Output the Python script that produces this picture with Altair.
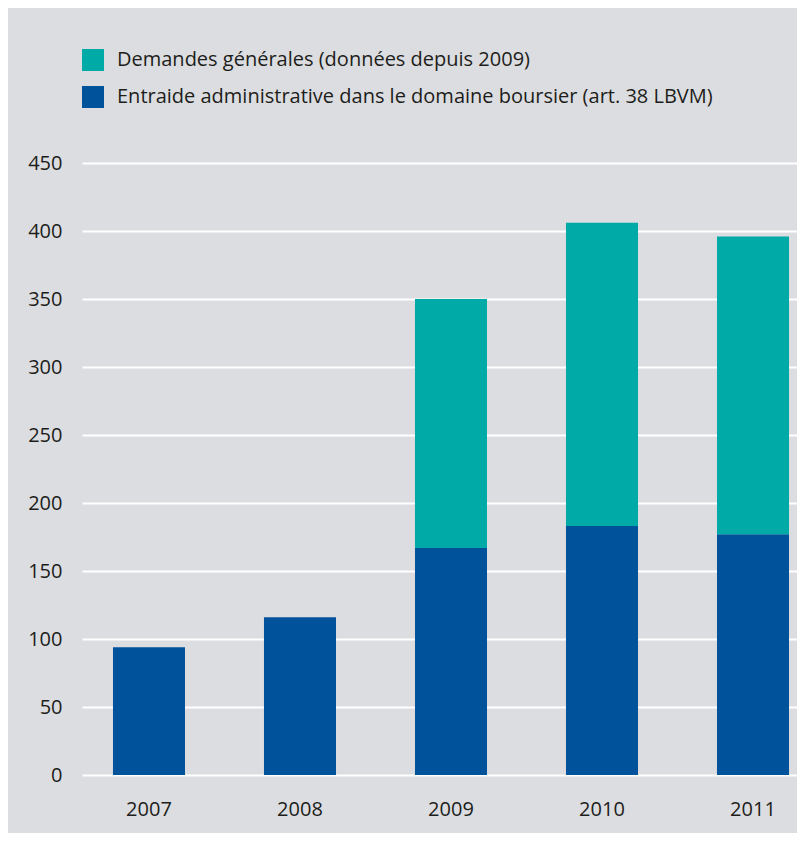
import altair as alt
import pandas as pd

years = ["2007", "2008", "2009", "2010", "2011"]
entraide = [94, 116, 167, 183, 177]
generales = [0, 0, 183, 223, 219]

s_gen = "Demandes générales (données depuis 2009)"
s_ent = "Entraide administrative dans le domaine boursier (art. 38 LBVM)"
series_names = [s_gen, s_ent]
series_colors = ["#00aaa7", "#00529b"]

rows = []
for y, e, g in zip(years, entraide, generales):
    rows.append({"year": y, "series": s_ent, "value": e, "ord": 0})
    if g > 0:
        rows.append({"year": y, "series": s_gen, "value": g, "ord": 1})
df = pd.DataFrame(rows)

FONT = "Open Sans"
TXT = "#1d1d1b"
FS = 20

chart = alt.Chart(df).mark_bar().encode(
    x=alt.X("year:N", title=None,
            scale=alt.Scale(paddingInner=0.523, paddingOuter=0.129, align=0.795),
            axis=alt.Axis(labelAngle=0, ticks=False, domain=False, grid=False,
                          labelPadding=24, labelFontSize=FS, labelFont=FONT,
                          labelColor=TXT)),
    y=alt.Y("value:Q", stack="zero", title=None,
            scale=alt.Scale(domain=[0, 450], nice=False),
            axis=alt.Axis(values=[0, 50, 100, 150, 200, 250, 300, 350, 400, 450],
                          ticks=False, domain=False, grid=True, gridColor="white",
                          gridWidth=2, labelPadding=20, labelFontSize=FS,
                          labelFont=FONT, labelColor=TXT)),
    color=alt.Color("series:N", title=None,
                    scale=alt.Scale(domain=series_names, range=series_colors),
                    legend=alt.Legend(orient="none", legendX=0, legendY=-114,
                                      symbolType="square", symbolSize=484,
                                      symbolStrokeWidth=0, symbolOpacity=1,
                                      labelFontSize=FS, labelFont=FONT,
                                      labelColor=TXT, labelOffset=13,
                                      rowPadding=15, padding=0, labelLimit=800)),
    order=alt.Order("ord:Q"),
).properties(
    width=715, height=612,
    autosize=alt.AutoSizeParams(type="none"),
    padding={"left": 74, "top": 155, "right": 0, "bottom": 58},
).configure(
    background="#dcdde0",
).configure_view(stroke=None)

chart.save("out.html", embed_options={"renderer": "svg", "actions": False})
